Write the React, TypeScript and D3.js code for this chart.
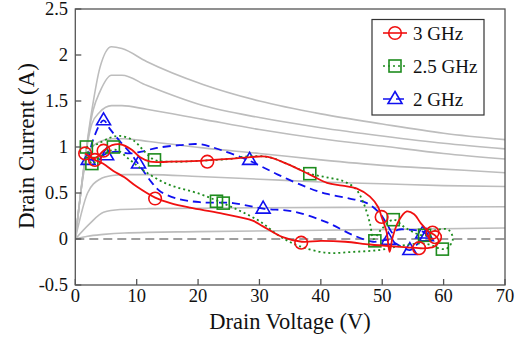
import React from "react";
import * as d3 from "d3";

type P = [number, number];

// Gray static I-V curves (V, A)
const ivCurve1: P[] = [[0,0],[2.7,1.4],[4,1.86],[5.9,2.09],[7.6,2.07],[11.6,1.93],[20.8,1.68],[30,1.5],[40,1.36],[50,1.25],[60,1.15],[70,1.08]];
const ivCurve2: P[] = [[0,0],[2.9,1.4],[4,1.6],[5.9,1.78],[7.6,1.78],[11.6,1.67],[20.8,1.45],[30,1.32],[40,1.21],[50,1.12],[60,1.04],[70,0.98]];
const ivCurve3: P[] = [[0,0],[2.7,1.25],[4,1.38],[5.9,1.45],[7.6,1.45],[11.6,1.41],[20.8,1.3],[30,1.19],[40,1.09],[50,1.01],[60,0.93],[70,0.87]];
const ivCurve4: P[] = [[0,0],[2.2,0.95],[4,1.06],[6,1.09],[8,1.09],[12,1.06],[20.8,0.99],[30,0.93],[40,0.86],[50,0.8],[60,0.76],[70,0.72]];
const ivCurve5: P[] = [[0,0],[2,0.5],[4,0.65],[6,0.69],[8,0.7],[12,0.7],[20,0.68],[30,0.65],[40,0.62],[50,0.6],[60,0.58],[70,0.57]];
const ivCurve6: P[] = [[0,0],[2.4,0.17],[4.6,0.29],[7.3,0.32],[12,0.33],[20,0.335],[30,0.34],[50,0.345],[70,0.35]];
const ivCurve7: P[] = [[0,0],[2,0.03],[4.6,0.05],[8,0.065],[20,0.08],[40,0.095],[70,0.12]];
const ivCurves: P[][] = [ivCurve1, ivCurve2, ivCurve3, ivCurve4, ivCurve5, ivCurve6, ivCurve7];

// 3 GHz load line
const line3GHz: P[] = [[1.6,0.93],[3.2,0.88],[4.6,0.96],[6,1.02],[7.3,1.03],[9.2,0.97],[10.5,0.89],[12.2,0.84],[15.4,0.84],[20.3,0.85],[25,0.87],[28.5,0.89],[31.2,0.895],[34.4,0.82],[38.2,0.7],[41,0.61],[43.5,0.58],[45.8,0.55],[48,0.46],[49.3,0.35],[49.9,0.24],[50.7,0.08],[51.2,-0.14],[51.7,0.02],[52.7,0.2],[54,0.3],[55.2,0.27],[56.3,0.17],[57.6,0.08],[58.6,0.04],[59.2,-0.02],[58.6,-0.08],[57.2,-0.1],[56,-0.1],[54,-0.09],[51.7,-0.08],[48,-0.06],[44,-0.03],[40,-0.02],[36.9,-0.03],[33.8,0.02],[30.5,0.14],[28.9,0.2],[23.6,0.28],[18.7,0.34],[15.5,0.39],[13,0.45],[10,0.57],[8,0.67],[6.2,0.74],[4.5,0.82],[3.2,0.86],[2.2,0.9],[1.6,0.93]];
const marks3GHz: P[] = [[1.6,0.93],[3.2,0.86],[4.6,0.96],[13,0.44],[21.5,0.84],[36.8,-0.04],[49.9,0.24],[56,-0.1],[58.2,0.07],[58.6,0.02]];

// 2.5 GHz load line
const line25GHz: P[] = [[1.8,1.0],[3.5,1.03],[5.6,1.1],[7.3,1.12],[9.5,1.07],[11.3,0.95],[12.9,0.86],[16,0.84],[20.3,0.85],[25,0.87],[28.5,0.9],[31.5,0.89],[34.4,0.82],[38.2,0.71],[41,0.67],[43.6,0.63],[45.6,0.55],[46.9,0.4],[48,0.17],[48.6,0.0],[49.8,0.1],[51.8,0.21],[53.6,0.13],[55.5,0.06],[56.9,0.04],[58.9,0.1],[60.8,0.1],[61.5,0.0],[60.6,-0.1],[59.8,-0.11],[57,-0.05],[53.4,-0.07],[49.5,-0.12],[45.2,-0.14],[41,-0.15],[36.6,-0.08],[33.3,0.03],[30.1,0.19],[27,0.3],[24,0.39],[20.3,0.49],[14.9,0.6],[11,0.75],[8.9,0.86],[6.5,0.97],[4.2,0.9],[2.7,0.82],[1.8,1.0]];
const marks25GHz: P[] = [[1.8,1.0],[2.7,0.82],[6.2,1.0],[12.9,0.86],[23,0.41],[24.1,0.39],[38.2,0.71],[48.8,-0.02],[51.8,0.21],[56.9,0.04],[59.8,-0.11]];

// 2 GHz load line
const line2GHz: P[] = [[2.1,0.86],[2.9,1.08],[4.6,1.29],[5.6,1.2],[7.3,1.06],[8.9,0.94],[10,0.84],[11.1,0.74],[12.5,0.61],[13.8,0.52],[16.5,0.44],[20.3,0.4],[25.7,0.39],[30.6,0.33],[35.5,0.3],[41,0.18],[45.3,0.04],[48.5,-0.03],[51,-0.01],[53,-0.08],[54.5,-0.12],[55.8,-0.05],[57.2,0.04],[56.6,0.08],[54.5,0.1],[52.5,0.1],[51.8,0.06],[50.7,0.17],[49.6,0.28],[47.5,0.39],[44.7,0.44],[41,0.49],[37.8,0.56],[33,0.7],[28.4,0.85],[23.6,0.97],[20.3,1.03],[17,1.02],[13.3,0.99],[10.8,0.95],[8.9,0.93],[6.7,0.95],[5.1,0.93],[3.5,0.87],[2.1,0.86]];
const marks2GHz: P[] = [[2.1,0.86],[4.6,1.29],[5.1,0.91],[10.3,0.82],[28.4,0.86],[30.6,0.33],[51,-0.01],[54.5,-0.12],[56.6,0.06],[57.2,0.03]];

const xTicks = [0, 10, 20, 30, 40, 50, 60, 70];
const yTicks = [-0.5, 0, 0.5, 1, 1.5, 2, 2.5];
const yTickLabels = ["-0.5", "0", "0.5", "1", "1.5", "2", "2.5"];
const legendLabels = ["3 GHz", "2.5 GHz", "2 GHz"];

const W = 523, H = 341;
const L = 75.3, R = 505, T = 9, B = 285;
const FONT = '"Liberation Serif", "DejaVu Serif", "Times New Roman", serif';

const RED = "#f01010";
const GREEN = "#1e8c1e";
const BLUE = "#1010f0";

function Marker({ kind, x, y, color }: { kind: string; x: number; y: number; color: string }) {
  if (kind === "circle") return <circle cx={x} cy={y} r={6.3} fill="none" stroke={color} strokeWidth={1.6} />;
  if (kind === "square") return <rect x={x - 6} y={y - 6} width={12} height={12} fill="none" stroke={color} strokeWidth={1.6} />;
  const p = d3.path();
  p.moveTo(x, y - 7.5);
  p.lineTo(x + 7, y + 4.5);
  p.lineTo(x - 7, y + 4.5);
  p.closePath();
  return <path d={p.toString()} fill="none" stroke={color} strokeWidth={1.6} />;
}

const txt = { fontFamily: FONT, fill: "#111" } as React.CSSProperties;

export default function App() {
  const x = d3.scaleLinear().domain([0, 70]).range([L, R]);
  const y = d3.scaleLinear().domain([-0.5, 2.5]).range([B, T]);
  const grayLine = d3.line<P>().x(d => x(d[0])).y(d => y(d[1])).curve(d3.curveMonotoneX);
  const loop = d3.line<P>().x(d => x(d[0])).y(d => y(d[1])).curve(d3.curveCatmullRom.alpha(0.5));

  const series = [
    { line: line2GHz, marks: marks2GHz, color: BLUE, dash: "8,5", kind: "tri", w: 1.8 },
    { line: line25GHz, marks: marks25GHz, color: GREEN, dash: "2,3", kind: "square", w: 1.8 },
    { line: line3GHz, marks: marks3GHz, color: RED, dash: undefined, kind: "circle", w: 1.8 },
  ];
  const legendSeries = [series[2], series[1], series[0]];

  return (
    <svg width={W} height={H} style={{ position: "absolute", left: 0, top: 0, background: "#fff", fontFamily: FONT }}>
      <rect x={0} y={0} width={W} height={H} fill="#fff" />
      <defs>
        <clipPath id="plot"><rect x={L} y={T} width={R - L} height={B - T} /></clipPath>
      </defs>
      <g clipPath="url(#plot)">
        {ivCurves.map((c, i) => (
          <path key={i} d={grayLine(c) || ""} fill="none" stroke="#bdbdbd" strokeWidth={1.6} />
        ))}
        <line x1={x(0)} x2={x(70)} y1={y(0)} y2={y(0)} stroke="#808080" strokeWidth={1.5} strokeDasharray="9,5" />
        {series.map((s, i) => (
          <g key={i}>
            <path d={loop(s.line) || ""} fill="none" stroke={s.color} strokeWidth={s.w} strokeDasharray={s.dash} />
            {s.marks.map((m, j) => <Marker key={j} kind={s.kind} x={x(m[0])} y={y(m[1])} color={s.color} />)}
          </g>
        ))}
      </g>
      <rect x={L} y={T} width={R - L} height={B - T} fill="none" stroke="#555" strokeWidth={1.3} />
      {xTicks.map(t => (
        <g key={t}>
          <line x1={x(t)} x2={x(t)} y1={B} y2={B - 6} stroke="#555" strokeWidth={1.3} />
          <text x={x(t)} y={302} textAnchor="middle" fontSize={18.5} style={txt}>{t}</text>
        </g>
      ))}
      {yTicks.map((t, i) => (
        <g key={t}>
          <line x1={L} x2={L + 6} y1={y(t)} y2={y(t)} stroke="#555" strokeWidth={1.3} />
          <text x={68} y={y(t) + 6} textAnchor="end" fontSize={18.5} style={txt}>{yTickLabels[i]}</text>
        </g>
      ))}
      <text x={290} y={329} textAnchor="middle" fontSize={22.5} style={txt}>Drain Voltage (V)</text>
      <text transform="translate(34,146) rotate(-90)" textAnchor="middle" fontSize={23} style={txt}>Drain Current (A)</text>
      <rect x={372} y={19.5} width={112} height={95.5} fill="#fff" stroke="#333" strokeWidth={1.2} />
      {legendSeries.map((s, i) => {
        const cy = 33 + i * 33;
        return (
          <g key={i}>
            <line x1={383} x2={407} y1={cy} y2={cy} stroke={s.color} strokeWidth={1.6} strokeDasharray={s.dash} />
            <Marker kind={s.kind} x={395} y={cy} color={s.color} />
            <text x={413} y={cy + 6.5} fontSize={19} style={txt}>{legendLabels[i]}</text>
          </g>
        );
      })}
    </svg>
  );
}
